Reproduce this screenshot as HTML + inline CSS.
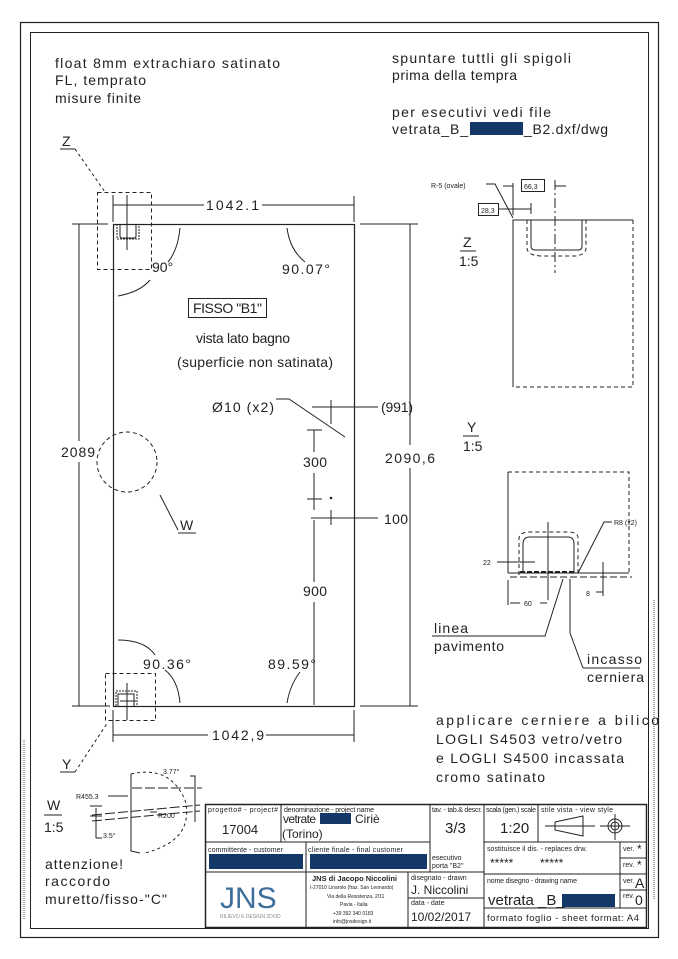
<!DOCTYPE html>
<html><head><meta charset="utf-8"><style>
html,body{margin:0;padding:0;background:#fff;}
svg{display:block;}
text{font-family:"Liberation Sans",sans-serif;fill:#222;}
.t{font-size:14px;}
.s{font-size:7px;}
.m{font-size:12px;}
</style></head><body>
<svg width="678" height="959" viewBox="0 0 678 959" xmlns="http://www.w3.org/2000/svg" stroke="#222" fill="none" stroke-width="1">
<rect x="20.5" y="22.5" width="638" height="915" stroke-width="1.2"/>
<rect x="30.5" y="32.5" width="618" height="896"/>
<line x1="24" y1="740" x2="24" y2="920" stroke="#aaa" stroke-dasharray="1 1" stroke-width="2"/>
<line x1="654" y1="600" x2="654" y2="900" stroke="#aaa" stroke-dasharray="1 1" stroke-width="2"/>

<g stroke="none">
<text class="t" x="55" y="68" textLength="225">float 8mm extrachiaro satinato</text>
<text class="t" x="55" y="85" textLength="91">FL, temprato</text>
<text class="t" x="55" y="103" textLength="86">misure finite</text>
<text class="t" x="392" y="63" textLength="179">spuntare tuttli gli spigoli</text>
<text class="t" x="392" y="80" textLength="125">prima della tempra</text>
<text class="t" x="392" y="117" textLength="159">per esecutivi vedi file</text>
<text class="t" x="392" y="134" textLength="76">vetrata_B_</text>
<text class="t" x="524" y="134" textLength="84">_B2.dxf/dwg</text>
</g>
<rect x="470" y="122" width="53" height="13" fill="#133766" stroke="none"/>

<rect x="113.5" y="224.5" width="241" height="482" stroke-width="1.2"/>
<line x1="113" y1="205" x2="204" y2="205"/><line x1="262" y1="205" x2="354" y2="205"/>
<line x1="113" y1="195" x2="113" y2="222"/><line x1="354" y1="196" x2="354" y2="222"/>
<line x1="72" y1="224" x2="108" y2="224"/>
<text class="t" x="206" y="210" stroke="none" textLength="53">1042.1</text>
<line x1="79" y1="224" x2="79" y2="441"/><line x1="79" y1="462" x2="79" y2="706"/>
<line x1="72" y1="706" x2="110" y2="706"/>
<text class="t" x="61" y="457" stroke="none" textLength="34">2089</text>
<line x1="360" y1="224" x2="418" y2="224"/><line x1="360" y1="706" x2="418" y2="706"/>
<line x1="410" y1="224" x2="410" y2="445"/><line x1="410" y1="468" x2="410" y2="706"/>
<text class="t" x="385" y="463" stroke="none" textLength="50">2090,6</text>
<line x1="113" y1="710" x2="113" y2="742"/><line x1="354" y1="710" x2="354" y2="742"/>
<line x1="113" y1="735" x2="208" y2="735"/><line x1="266" y1="735" x2="354" y2="735"/>
<text class="t" x="212" y="740" stroke="none" textLength="52">1042,9</text>

<path d="M180 228 Q178 250 168 262"/>
<path d="M118 296 Q140 292 150 280"/>
<path d="M287 228 Q290 250 305 262"/>
<path d="M118 640 Q145 640 155 655"/>
<path d="M180 703 Q178 680 165 670"/>
<path d="M287 703 Q290 685 300 672"/>
<g stroke="none">
<text class="t" x="152" y="272">90°</text>
<text class="t" x="282" y="274" textLength="48">90.07°</text>
<text class="t" x="143" y="669" textLength="48">90.36°</text>
<text class="t" x="268" y="669" textLength="48">89.59°</text>
</g>

<rect x="97.5" y="192.5" width="54" height="77" stroke-dasharray="4 3"/>
<line x1="60" y1="149" x2="75" y2="149"/><line x1="75" y1="149" x2="105" y2="192" stroke-dasharray="3 3"/>
<text class="t" x="62" y="146" stroke="none">Z</text>
<path d="M120 224 V236 Q120 238 122 238 H134 Q136 238 136 236 V224"/>
<path d="M117 224 V239 H139 V224" stroke-dasharray="2 1"/>
<line x1="127" y1="195" x2="127" y2="250"/>

<rect x="105.5" y="673.5" width="50" height="47" stroke-dasharray="4 3"/>
<path d="M118 706 V694 H134 V706" /><path d="M116 706 V691 H137 V706" stroke-dasharray="2 1"/>
<line x1="127" y1="683" x2="127" y2="720"/><line x1="120" y1="701" x2="136" y2="701"/>
<line x1="60" y1="772" x2="75" y2="772"/><line x1="75" y1="772" x2="108" y2="722" stroke-dasharray="3 3"/>
<text class="t" x="62" y="769" stroke="none">Y</text>

<circle cx="127" cy="462" r="30" stroke-dasharray="4 3"/>
<line x1="160" y1="495" x2="178" y2="530"/><line x1="178" y1="533" x2="196" y2="533"/>
<text class="t" x="180" y="530" stroke="none">W</text>

<rect x="188.5" y="298.5" width="78" height="19"/>
<g stroke="none">
<text class="t" x="193" y="313" textLength="69">FISSO "B1"</text>
<text class="t" x="196" y="343" textLength="94">vista lato bagno</text>
<text class="t" x="177" y="367" textLength="156">(superficie non satinata)</text>
<text class="t" x="212" y="412" textLength="62">Ø10 (x2)</text>
<text class="t" x="381" y="412" textLength="32">(991)</text>
<text class="t" x="303" y="467" textLength="24">300</text>
<text class="t" x="384" y="524" textLength="24">100</text>
<text class="t" x="303" y="596" textLength="24">900</text>
</g>
<path d="M276 399 H289 L345 437"/>
<line x1="312" y1="407" x2="378" y2="407"/><line x1="331" y1="400" x2="331" y2="424"/>
<line x1="307" y1="430" x2="322" y2="430"/><line x1="314" y1="430" x2="314" y2="452"/>
<line x1="314" y1="473" x2="314" y2="510"/><line x1="307" y1="499" x2="322" y2="499"/>
<circle cx="331" cy="498" r="0.8" fill="#222"/>
<line x1="311" y1="518" x2="378" y2="518"/><line x1="331" y1="510" x2="331" y2="525"/>
<line x1="314" y1="520" x2="314" y2="582"/><line x1="314" y1="602" x2="314" y2="705"/>

<g stroke="none"><text class="t" x="463" y="247">Z</text><text class="t" x="459" y="266">1:5</text></g>
<line x1="460" y1="251" x2="476" y2="251"/>
<path d="M513 387 V220 H633"/>
<path d="M633 220 V387 H513" stroke-dasharray="4 3"/>
<path d="M531 220 V246 Q531 250 535 250 H578 Q582 250 582 246 V220"/>
<path d="M527 220 V248 Q527 255 540 256 H575 Q586 255 586 248 V220" stroke-dasharray="4 3"/>
<line x1="555" y1="180" x2="555" y2="273" stroke-dasharray="10 3 2 3"/>
<line x1="513" y1="183" x2="513" y2="215"/><line x1="503" y1="186" x2="513" y2="186"/><line x1="555" y1="186" x2="566" y2="186"/>
<rect x="521.5" y="179.5" width="23" height="12"/>
<line x1="498" y1="209" x2="531" y2="209"/><line x1="531" y1="203" x2="531" y2="214"/>
<rect x="478.5" y="203.5" width="20" height="12"/>
<path d="M486 184 H495 L513 218"/>
<g stroke="none"><text class="s" x="524" y="189">66,3</text><text class="s" x="481" y="213">28,3</text><text class="s" x="431" y="188">R-5 (ovale)</text></g>

<g stroke="none"><text class="t" x="467" y="432">Y</text><text class="t" x="463" y="451">1:5</text></g>
<line x1="463" y1="436" x2="479" y2="436"/>
<path d="M508 573 V472"/>
<path d="M508 472 H629 V573" stroke-dasharray="4 3"/>
<line x1="508" y1="573" x2="629" y2="573"/>
<line x1="510" y1="577" x2="632" y2="577" stroke-dasharray="7 3"/>
<path d="M523 573 V544 Q523 537 530 537 H568 Q574 537 574 544 V573"/>
<path d="M519 575 V538 Q520 532 530 532 H568 Q578 532 578 538 V575" stroke-dasharray="4 3"/>
<line x1="520" y1="572" x2="576" y2="572" stroke-width="2" stroke-dasharray="5 2"/>
<line x1="548" y1="522" x2="548" y2="600"/>
<line x1="497" y1="562" x2="535" y2="562"/>
<line x1="508" y1="580" x2="508" y2="605"/><line x1="510" y1="603" x2="520" y2="603"/><line x1="540" y1="603" x2="547" y2="603"/>
<line x1="603" y1="562" x2="603" y2="596"/><line x1="596" y1="592" x2="603" y2="592"/>
<path d="M612 522 H604 L578 573"/>
<g stroke="none"><text class="s" x="483" y="565">22</text><text class="s" x="524" y="606">60</text><text class="s" x="586" y="596">8</text><text class="s" x="614" y="525">R8 (x2)</text></g>
<path d="M432 636 H545 L563 579"/>
<path d="M583 668 L570 633 V579"/>
<line x1="583" y1="668" x2="640" y2="668"/>
<g stroke="none">
<text class="t" x="434" y="633" textLength="34">linea</text><text class="t" x="434" y="651" textLength="70">pavimento</text>
<text class="t" x="587" y="664" textLength="55">incasso</text><text class="t" x="587" y="682" textLength="57">cerniera</text>
<text class="t" x="436" y="725" textLength="223">applicare cerniere a bilico</text>
<text class="t" x="436" y="744" textLength="186">LOGLI S4503 vetro/vetro</text>
<text class="t" x="436" y="763" textLength="188">e LOGLI S4500 incassata</text>
<text class="t" x="436" y="782" textLength="109">cromo satinato</text>
</g>

<g stroke="none"><text class="t" x="47" y="810">W</text><text class="t" x="44" y="832">1:5</text></g>
<line x1="44" y1="815" x2="62" y2="815"/>
<path d="M131 774 V851 L140 853"/>
<path d="M131 774 Q170 765 185 800 Q195 840 145 853" stroke-dasharray="3 3"/>
<line x1="132" y1="788" x2="202" y2="788" stroke-dasharray="10 3"/>
<line x1="92" y1="815" x2="200" y2="805" stroke-dasharray="10 3"/>
<line x1="92" y1="821" x2="200" y2="811" stroke-dasharray="10 3"/>
<line x1="96" y1="808" x2="96" y2="838"/><line x1="96" y1="838" x2="102" y2="838"/>
<line x1="90" y1="806" x2="102" y2="806"/><line x1="90" y1="816" x2="102" y2="816"/>
<line x1="108" y1="796" x2="128" y2="796"/>
<line x1="150" y1="812" x2="157" y2="812"/>
<path d="M190 776 H195 V822"/>
<g stroke="none"><text class="s" x="76" y="799">R455.3</text><text class="s" x="158" y="818">R200</text><text class="s" x="163" y="774">3.77°</text><text class="s" x="103" y="838">3.5°</text></g>
<g stroke="none">
<text class="t" x="45" y="869" textLength="78">attenzione!</text>
<text class="t" x="45" y="886" textLength="65">raccordo</text>
<text class="t" x="45" y="904" textLength="122">muretto/fisso-"C"</text>
</g>

<g stroke-width="1">
<rect x="205.5" y="804.5" width="441" height="123" stroke-width="1.5"/>
<line x1="205" y1="842" x2="430" y2="842"/>
<line x1="205" y1="872" x2="484" y2="872"/>
<line x1="484" y1="842" x2="647" y2="842"/>
<line x1="281" y1="804" x2="281" y2="842"/>
<line x1="430" y1="804" x2="430" y2="872"/>
<line x1="484" y1="804" x2="484" y2="928"/>
<line x1="538" y1="804" x2="538" y2="842"/>
<line x1="306" y1="842" x2="306" y2="928"/>
<line x1="408" y1="872" x2="408" y2="928"/>
<line x1="408" y1="898" x2="484" y2="898"/>
<line x1="484" y1="874" x2="647" y2="874"/>
<line x1="484" y1="908" x2="647" y2="908"/>
<line x1="620" y1="842" x2="620" y2="908"/>
<line x1="620" y1="858" x2="647" y2="858"/>
<line x1="620" y1="890" x2="647" y2="890"/>
</g>
<rect x="209" y="854" width="94" height="15" fill="#133766" stroke="none"/>
<rect x="310" y="854" width="117" height="15" fill="#133766" stroke="none"/>
<rect x="320" y="813" width="31" height="11" fill="#133766" stroke="none"/>
<rect x="562" y="894" width="53" height="13" fill="#133766" stroke="none"/>
<g stroke="none">
<text class="s" x="208" y="812" textLength="70">progetto# - project#</text>
<text x="222" y="834" style="font-size:13px">17004</text>
<text class="s" x="284" y="812" textLength="90">denominazione - project name</text>
<text class="m" x="283" y="823" textLength="33">vetrate</text><text class="m" x="355" y="823">Ciriè</text>
<text class="m" x="282" y="838">(Torino)</text>
<text class="s" x="432" y="812" textLength="50">tav. - tab.&amp; descr.</text>
<text x="445" y="833" style="font-size:15px">3/3</text>
<text class="s" x="486" y="812" textLength="50">scala (gen.) scale</text>
<text x="500" y="833" style="font-size:15px">1:20</text>
<text class="s" x="541" y="812" textLength="72">stile vista - view style</text>
<text class="s" x="208" y="852" textLength="75">committente - customer</text>
<text class="s" x="308" y="852" textLength="95">cliente finale - final customer</text>
<text class="s" x="432" y="860">esecutivo</text>
<text class="s" x="432" y="868">porta "B2"</text>
<text class="s" x="487" y="851" textLength="100">sostituisce il dis. - replaces drw.</text>
<text class="m" x="490" y="867">*****</text><text class="m" x="540" y="867">*****</text>
<text class="s" x="623" y="851">ver.</text><text class="m" x="637" y="853">*</text>
<text class="s" x="623" y="867">rev.</text><text class="m" x="637" y="869">*</text>
<text x="220" y="908" style="font-size:30px;fill:#3d6f9a">JNS</text>
<text style="font-size:5px;fill:#888" x="220" y="918">RILIEVO E DESIGN 2D/3D</text>
<text style="font-size:7.5px;font-weight:bold" x="312" y="881">JNS di Jacopo Niccolini</text>
<text style="font-size:5px" x="310" y="889">I-27010 Linarolo (fraz. San Leonardo)</text>
<text style="font-size:5px" x="327" y="898">Via della Resistenza, 2/11</text>
<text style="font-size:5px" x="340" y="906">Pavia - Italia</text>
<text style="font-size:5px" x="333" y="915">+39 392 340 0183</text>
<text style="font-size:5px" x="333" y="923">info@jnsdesign.it</text>
<text class="s" x="411" y="880">disegnato - drawn</text>
<text class="m" x="411" y="894">J. Niccolini</text>
<text class="s" x="411" y="905">data - date</text>
<text class="m" x="411" y="921">10/02/2017</text>
<text class="s" x="487" y="883" textLength="90">nome disegno - drawing name</text>
<text x="488" y="905" style="font-size:15px">vetrata _B_</text>
<text class="s" x="623" y="883">ver.</text><text x="635" y="888" style="font-size:14px">A</text>
<text class="s" x="623" y="898">rev.</text><text x="635" y="905" style="font-size:14px">0</text>
<text style="font-size:9.5px" x="487" y="921" textLength="152">formato foglio - sheet format: A4</text>
</g>
<path d="M555 822 L583 816 V836 L555 830 Z"/>
<line x1="545" y1="826" x2="595" y2="826"/>
<circle cx="615" cy="826" r="7"/><circle cx="615" cy="826" r="4"/>
<line x1="600" y1="826" x2="630" y2="826"/><line x1="615" y1="814" x2="615" y2="840"/>
</svg>
</body></html>
